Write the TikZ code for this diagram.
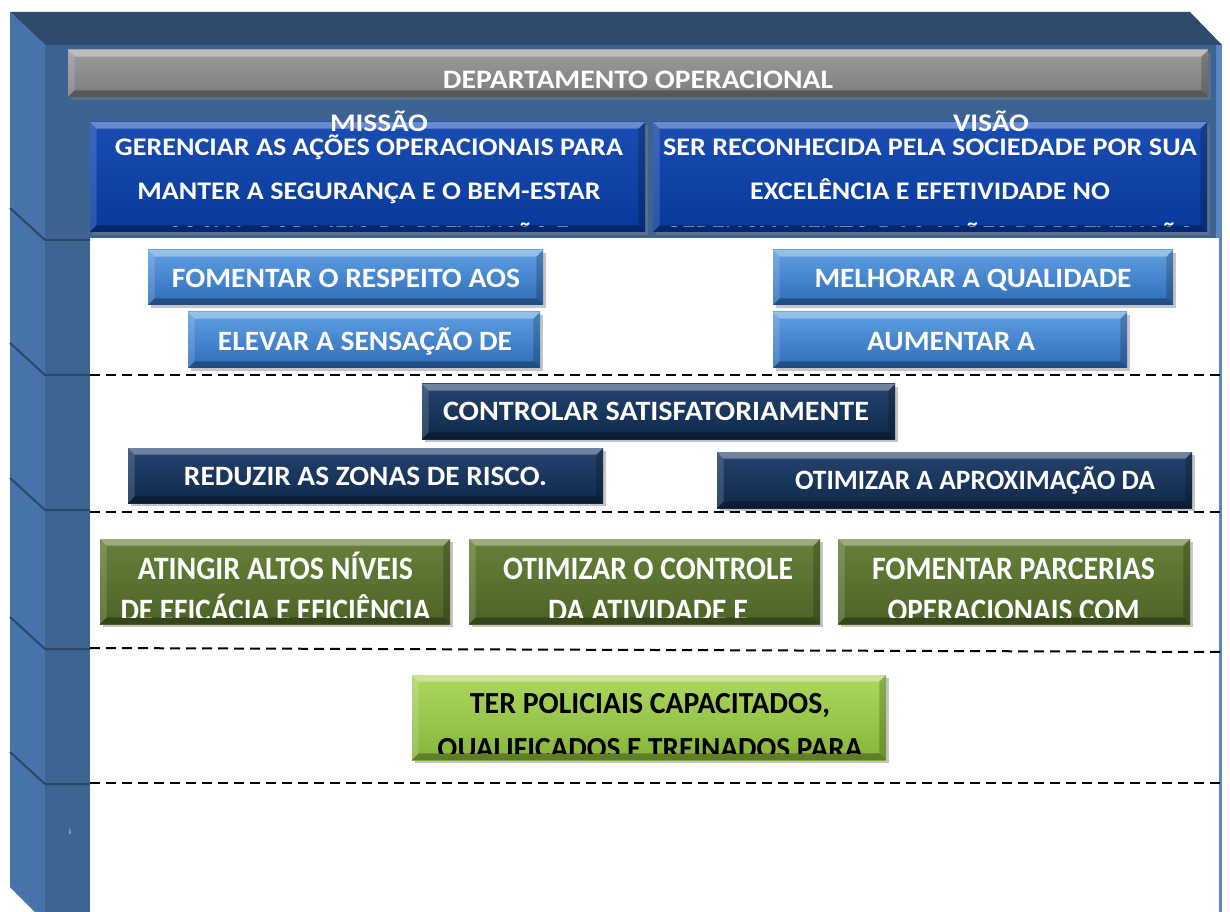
\documentclass[tikz,border=0pt]{standalone}
\usepackage{fontspec}
\setmainfont{Carlito}[BoldFont={Carlito Bold}]
\usetikzlibrary{shadows}
\definecolor{moldtopo}{HTML}{2E4B6E}
\definecolor{moldpainel}{HTML}{3C6391}
\definecolor{moldlado}{HTML}{4673A9}
\definecolor{moldfrente}{HTML}{3C6592}
\definecolor{moldlinha}{HTML}{2B4869}
\definecolor{moldclaro}{HTML}{5B86BE}
\definecolor{tituloA}{HTML}{9C9C9C}
\definecolor{tituloB}{HTML}{7C7C7C}
\definecolor{missaoA}{HTML}{1A4DB3}
\definecolor{missaoB}{HTML}{08389A}
\definecolor{azulA}{HTML}{5F9FE3}
\definecolor{azulB}{HTML}{2E6DB8}
\definecolor{marinhoA}{HTML}{24436E}
\definecolor{marinhoB}{HTML}{10294B}
\definecolor{olivaA}{HTML}{66813A}
\definecolor{olivaB}{HTML}{4C6326}
\definecolor{verdeA}{HTML}{AED860}
\definecolor{verdeB}{HTML}{86B53A}
% largura de cada linha em px da figura
\newcommand{\fitw}[2]{\resizebox{\dimexpr #1pt*3/4\relax}{\height}{#2}}
\tikzset{
  bevel/.style={path picture={
    \fill[white,opacity=.35] (path picture bounding box.north west) -- (path picture bounding box.north east)
      -- ([shift={(-5pt,-5pt)}]path picture bounding box.north east) -- ([shift={(5pt,-5pt)}]path picture bounding box.north west) -- cycle;
    \fill[white,opacity=.15] (path picture bounding box.north west) -- ([shift={(5pt,-5pt)}]path picture bounding box.north west)
      -- ([shift={(5pt,5pt)}]path picture bounding box.south west) -- (path picture bounding box.south west) -- cycle;
    \fill[black,opacity=.3] (path picture bounding box.south west) -- (path picture bounding box.south east)
      -- ([shift={(-5pt,5pt)}]path picture bounding box.south east) -- ([shift={(5pt,5pt)}]path picture bounding box.south west) -- cycle;
    \fill[black,opacity=.2] (path picture bounding box.north east) -- ([shift={(-5pt,-5pt)}]path picture bounding box.north east)
      -- ([shift={(-5pt,5pt)}]path picture bounding box.south east) -- (path picture bounding box.south east) -- cycle;
  }},
  caixa/.style={inner sep=0pt, bevel, drop shadow={opacity=.45, shadow xshift=2pt, shadow yshift=-2pt}},
  tam/.style 2 args={minimum width=#1*0.75pt, minimum height=#2*0.75pt},
  titulo/.style={caixa, top color=tituloA, bottom color=tituloB},
  missaobox/.style={caixa, top color=missaoA, bottom color=missaoB},
  objazul/.style={caixa, top color=azulA, bottom color=azulB},
  objmarinho/.style={caixa, top color=marinhoA, bottom color=marinhoB},
  objoliva/.style={caixa, top color=olivaA, bottom color=olivaB},
  objverde/.style={caixa, top color=verdeA, bottom color=verdeB},
  txt/.style={anchor=base, align=center, inner sep=0pt, text=white, font=\bfseries\fontsize{21}{21}\selectfont},
  separador/.style={draw=black, line width=1.5pt, dash pattern=on 7.5pt off 4.5pt},
}
\begin{document}
\begin{tikzpicture}[x=0.75pt, y=-0.75pt]
\fill[white] (0,0) rectangle (1230,912);
% moldura
\fill[moldtopo] (10,12) -- (1190,12) -- (1222,45) -- (45,45) -- cycle;
\fill[moldpainel] (45,45) rectangle (1222,238);
\fill[moldclaro] (1216,45) rectangle (1222,238);
\fill[moldclaro] (1219,238) rectangle (1222,912);
\fill[moldlado] (10,12) -- (45,45) -- (45,912) -- (35,912) -- (10,887) -- cycle;
\fill[moldfrente] (45,238) rectangle (90,912);
\foreach \y in {208,343,478,617,752}
  \draw[moldlinha, line width=1.5pt] (10,\y) -- (45,\y+32) -- (90,\y+32);
\node[text=white, font=\fontsize{6}{6}\selectfont] (marca) at (70,832) {i};
% separadores
\draw[separador] (90,375) -- (1222,375);
\draw[separador] (90,512) -- (1222,512);
\draw[separador] (90,648) -- (1222,652);
\draw[separador] (90,783) -- (1222,783);
% departamento
\node[titulo, tam={1140}{47}] (depto) at (638,73.5) {};
\node[txt, font=\bfseries\fontsize{20}{20}\selectfont] (deptotxt) at (638,88.5) {\fitw{390}{DEPARTAMENTO OPERACIONAL}};
% missao e visao (ancora na ultima linha)
\node[missaobox, tam={555}{110}] (missao) at (367.5,177) {};
\node[missaobox, tam={554}{110}] (visao) at (930,177) {};
\begin{scope}
\clip ([yshift=4pt]missao.south west) rectangle (missao.north east);
\node[txt, font=\bfseries\fontsize{19}{33}\selectfont] (missaotxt) at (369,244)
  {\fitw{508}{GERENCIAR AS AÇÕES OPERACIONAIS PARA}\\\fitw{463}{MANTER A SEGURANÇA E O BEM-ESTAR}\\\fitw{400}{SOCIAL, POR MEIO DA PREVENÇÃO E}};
\end{scope}
\begin{scope}
\clip ([yshift=4pt]visao.south west) rectangle (visao.north east);
\node[txt, font=\bfseries\fontsize{19}{33}\selectfont] (visaotxt) at (930,244)
  {\fitw{534}{SER RECONHECIDA PELA SOCIEDADE POR SUA}\\\fitw{360}{EXCELÊNCIA E EFETIVIDADE NO}\\\fitw{532}{GERENCIAMENTO DAS AÇÕES DE PREVENÇÃO}};
\end{scope}
\node[txt, font=\bfseries\fontsize{19}{19}\selectfont] (missaolbl) at (379,132) {\fitw{98}{MISSÃO}};
\node[txt, font=\bfseries\fontsize{19}{19}\selectfont] (visaolbl) at (991,132) {\fitw{76}{VISÃO}};
% objetivos azuis
\node[objazul, tam={395}{55}] (fomentar) at (345.5,277.5) {};
\node[txt] at (346,288) {\fitw{348}{FOMENTAR O RESPEITO AOS}};
\node[objazul, tam={352}{56}] (elevar) at (364,340) {};
\node[txt] at (365,351) {\fitw{294}{ELEVAR A SENSAÇÃO DE}};
\node[objazul, tam={400}{55}] (melhorar) at (973,277.5) {};
\node[txt] at (973,288) {\fitw{317}{MELHORAR A QUALIDADE}};
\node[objazul, tam={354}{56}] (aumentar) at (950,340) {};
\node[txt] at (951,351) {\fitw{168}{AUMENTAR A}};
% objetivos marinho
\node[objmarinho, tam={473}{55}] (controlar) at (658.5,411.5) {};
\node[txt] at (656,421) {\fitw{426}{CONTROLAR SATISFATORIAMENTE}};
\node[objmarinho, tam={475}{55}] (reduzir) at (365.5,475.5) {};
\node[txt] at (365.5,485) {\fitw{363}{REDUZIR AS ZONAS DE RISCO.}};
\node[objmarinho, tam={475}{56}] (aproximacao) at (954.5,480) {};
\node[txt] at (975,489) {\fitw{360}{OTIMIZAR A APROXIMAÇÃO DA}};
% objetivos oliva
\node[objoliva, tam={350}{85}] (atingir) at (275,581.5) {};
\node[objoliva, tam={351}{85}] (otimizar) at (644.5,581.5) {};
\node[objoliva, tam={352}{85}] (parcerias) at (1014,581.5) {};
\begin{scope}
\clip ([yshift=5pt]atingir.south west) rectangle (atingir.north east);
\node[txt, font=\bfseries\fontsize{24.5}{31.5}\selectfont] at (275.5,621)
  {\fitw{275}{ATINGIR ALTOS NÍVEIS}\\\fitw{310}{DE EFICÁCIA E EFICIÊNCIA}};
\end{scope}
\begin{scope}
\clip ([yshift=5pt]otimizar.south west) rectangle (otimizar.north east);
\node[txt, font=\bfseries\fontsize{24.5}{31.5}\selectfont] at (648,621)
  {\fitw{290}{OTIMIZAR O CONTROLE}\\\fitw{200}{DA ATIVIDADE E}};
\end{scope}
\begin{scope}
\clip ([yshift=5pt]parcerias.south west) rectangle (parcerias.north east);
\node[txt, font=\bfseries\fontsize{24.5}{31.5}\selectfont] at (1013.5,621)
  {\fitw{283}{FOMENTAR PARCERIAS}\\\fitw{252}{OPERACIONAIS COM}};
\end{scope}
% objetivo verde
\node[objverde, tam={474}{85}] (policiais) at (649,717.5) {};
\begin{scope}
\clip ([yshift=5pt]policiais.south west) rectangle (policiais.north east);
\node[txt, text=black, font=\bfseries\fontsize{23}{33.75}\selectfont] at (650,758)
  {\fitw{360}{TER POLICIAIS CAPACITADOS,}\\\fitw{425}{QUALIFICADOS E TREINADOS PARA}};
\end{scope}
\end{tikzpicture}
\end{document}
